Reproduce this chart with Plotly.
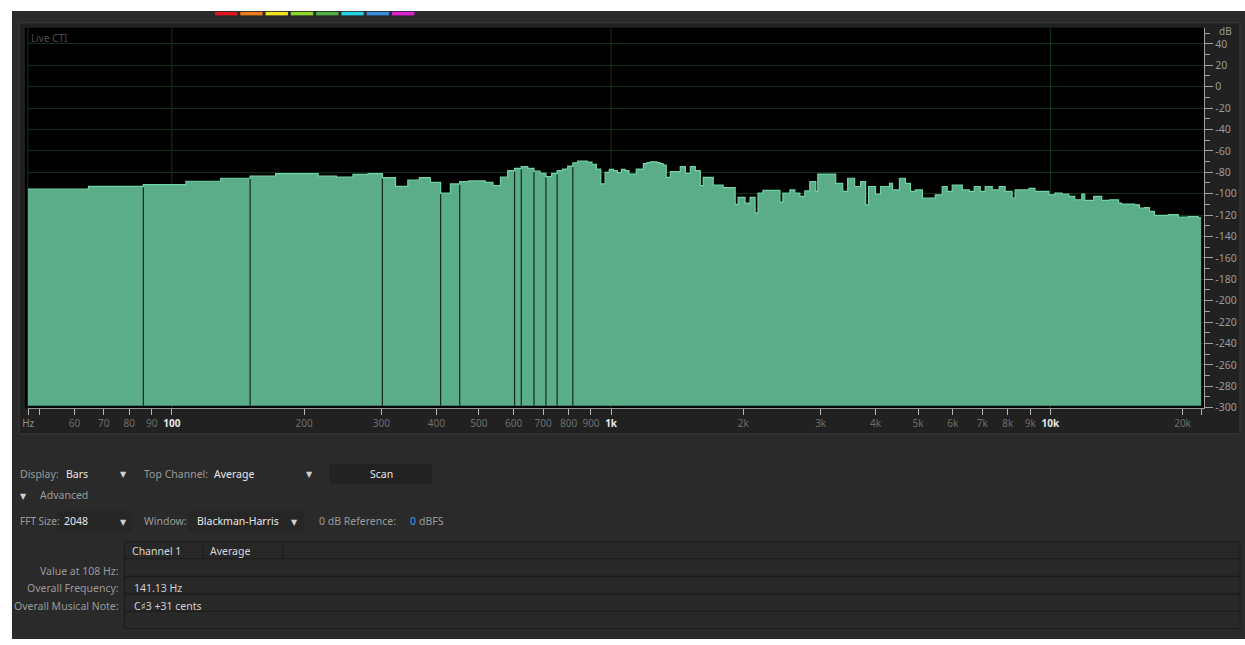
import math
import plotly.graph_objects as go

W, H = 1245, 645

# ---------------- data ----------------
SAMPLE_RATE = 44100
FFT_SIZE = 2048
BIN_HZ = SAMPLE_RATE / FFT_SIZE
NYQUIST_HZ = SAMPLE_RATE / 2
FIRST_BIN = 2

# level of individual FFT bins 2..61 (dB)
bin_db = [
    -95.8, -93.1, -91.5, -88.4, -85.6, -83.5, -81.3, -81.3, -83.5, -84.4,
    -81.9, -81.3, -85.0, -93.1, -87.2, -85.0, -89.4, -99.5, -90.9, -88.7,
    -88.1, -88.1, -89.4, -92.4, -84.4, -78.5, -76.4, -74.8, -76.4, -79.0,
    -81.0, -84.1, -81.0, -78.5, -77.0, -74.2, -71.1, -69.6, -69.6, -70.5,
    -72.7, -77.0, -90.9, -80.1, -77.3, -78.5, -80.4, -77.3, -78.5, -81.7,
    -81.7, -77.0, -77.0, -72.0, -71.0, -70.2, -70.2, -71.0, -72.0, -73.3,
]

# higher band, read as runs of bins: start frequency (Hz) and level (dB)
hf_start_hz = [
    1335, 1364, 1437, 1476, 1515, 1555, 1596, 1621, 1708, 1799,
    1916, 1946, 2018, 2072, 2127, 2160, 2217, 2423, 2461, 2553,
    2620, 2690, 2761, 2834, 2924, 2955, 3246, 3367, 3456, 3585,
    3699, 3797, 3857, 4000, 4106, 4304, 4372, 4534, 4679, 4802,
    4929, 5113, 5470, 5674, 5824, 5978, 6303, 6538, 6711, 6924,
    7108, 7372, 7646, 7890, 8183, 8313, 8938, 9223, 9922, 10238,
    10619, 11014, 11365, 11788, 11974, 12550, 13087, 13645, 14301, 14527,
    15546, 15958, 16379, 16812, 17257, 18565, 19560, 20608, 21711,
]
hf_db = [
    -84.7, -79.4, -74.8, -81.0, -74.8, -78.5, -92.4, -84.7, -91.9, -94.3,
    -110.0, -103.5, -108.8, -103.5, -118.0, -99.5, -97.0, -107.9, -99.5, -96.5,
    -99.5, -102.6, -97.4, -88.7, -97.9, -81.7, -90.3, -97.9, -85.6, -93.3,
    -88.7, -110.4, -93.3, -100.5, -93.3, -90.3, -96.5, -85.6, -90.3, -97.9,
    -96.5, -104.2, -101.1, -93.3, -97.9, -91.9, -96.5, -97.9, -93.3, -97.9,
    -93.3, -96.5, -93.3, -97.9, -104.2, -96.5, -95.0, -97.9, -101.1, -99.5,
    -100.5, -102.6, -105.7, -100.5, -106.3, -102.6, -106.3, -105.7, -108.8, -109.7,
    -110.4, -113.4, -113.0, -116.5, -120.2, -119.6, -122.0, -121.4, -122.6,
]

# bin boundaries that show a dark seam between bars
seam_bins = [4, 7, 14, 19, 21, 28, 29, 31, 33, 35, 38]

x_tick_hz = [47.1, 50, 60, 70, 80, 90, 100, 200, 300, 400, 500, 600, 700, 800, 900,
             1000, 2000, 3000, 4000, 5000, 6000, 7000, 8000, 9000, 10000, 20000, 22050]
x_tick_labels = ["Hz", "", "60", "70", "80", "90", "100", "200", "300", "400", "500",
                 "600", "700", "800", "900", "1k", "2k", "3k", "4k", "5k", "6k", "7k",
                 "8k", "9k", "10k", "20k", ""]
major_hz = [100, 1000, 10000]
db_ticks = [40, 20, 0, -20, -40, -60, -80, -100, -120, -140, -160, -180, -200,
            -220, -240, -260, -280, -300]

channel_colors = ["#e0141c", "#f07d1a", "#f0e41a", "#8ed62a", "#4caf48",
                  "#1fd4e4", "#3a8fe0", "#e01fd4"]

X_MIN_HZ, X_MAX_HZ = 47.02, 22400
DB_MIN, DB_MAX = -300.5, 55.1
BASE_DB = -298.3

# ---------------- helpers ----------------
def PX(p):
    return p / W

def PY(p):
    return 1 - p / H

FONT = "Noto Sans, Open Sans, DejaVu Sans, sans-serif"

# ---------------- spectrum ----------------
low_edges = [(FIRST_BIN + i) * BIN_HZ for i in range(len(bin_db))]
edges = low_edges + hf_start_hz + [NYQUIST_HZ]
levels = bin_db + hf_db
step_y = levels + [levels[-1]]

fig = go.Figure()

# vertical grid lines (decades)
gx, gy = [], []
for f in major_hz:
    gx += [f, f, None]
    gy += [DB_MIN, DB_MAX, None]
fig.add_trace(go.Scatter(x=gx, y=gy, mode="lines",
                         line=dict(color="rgb(16,58,26)", width=1),
                         hoverinfo="skip", showlegend=False))

fig.add_trace(go.Scatter(x=[edges[0], edges[-1]], y=[BASE_DB, BASE_DB], mode="lines",
                         line=dict(width=0), hoverinfo="skip", showlegend=False))
fig.add_trace(go.Scatter(x=edges, y=step_y, mode="lines", line_shape="hv",
                         fill="tonexty", fillcolor="rgb(90,173,136)",
                         line=dict(color="rgb(112,212,164)", width=1.2),
                         hoverinfo="skip", showlegend=False))

sx, sy = [], []
for b in seam_bins:
    i = b - FIRST_BIN
    top = min(levels[i - 1], levels[i])
    f = b * BIN_HZ
    sx += [f, f, None]
    sy += [BASE_DB, top - 0.8, None]
fig.add_trace(go.Scatter(x=sx, y=sy, mode="lines",
                         line=dict(color="rgb(22,40,31)", width=1.2),
                         hoverinfo="skip", showlegend=False))

# ---------------- shapes ----------------
shapes = []

def rect(x0, y0, x1, y1, fill, line=None, lw=0):
    shapes.append(dict(type="rect", xref="paper", yref="paper", layer="below",
                       x0=PX(x0), x1=PX(x1), y0=PY(y1), y1=PY(y0),
                       fillcolor=fill,
                       line=dict(color=line or fill, width=lw)))

rect(6, 11, W, H, "#2a2a2a")
rect(13, 23, 1240, 438, "#212121", "#3a3a3a", 1)
rect(19, 28, 1204, 412, "#000000")
shapes.append(dict(type="line", xref="paper", yref="paper", layer="below",
                   x0=PX(22), x1=PX(22), y0=PY(412), y1=PY(28),
                   line=dict(color="rgb(16,58,26)", width=1)))

for i, c in enumerate(channel_colors):
    x0 = 210 + i * 25.4
    rect(x0, 12, x0 + 22.5, 15.5, c)

# controls
rect(325, 468, 428, 488, "#222222")
rect(52, 516, 126, 537, "#262626")
rect(184, 516, 300, 537, "#262626")

# table
rect(119, 547, 1240, 564, "#272727", "#1d1d1d", 1)
for y0 in [564, 582, 600, 617]:
    rect(119, y0, 1240, y0 + 17.5, "#282828", "#1d1d1d", 1)
for xv in [198, 278]:
    shapes.append(dict(type="line", xref="paper", yref="paper", layer="below",
                       x0=PX(xv), x1=PX(xv), y0=PY(564), y1=PY(547),
                       line=dict(color="#1d1d1d", width=1)))

# ---------------- annotations ----------------
ann = []

def text(x, y, s, color="#9a9a9a", size=11, anchor="left", bold=False):
    if bold:
        s = "<b>" + s + "</b>"
    ann.append(dict(x=PX(x), y=PY(y), xref="paper", yref="paper", text=s,
                    showarrow=False, xanchor=anchor, yanchor="middle",
                    font=dict(family=FONT, size=size, color=color)))

text(23, 38, "Live CTI", "#4e4e4e", 10)
text(1217, 31, "dB", "#9a9a9a", 10)

text(12, 478, "Display:", "#9a9a9a", 10.5)
text(58, 478, "Bars", "#e6e6e6", 10.5)
text(113, 478, "▼", "#d0d0d0", 8)
text(137, 478, "Top Channel:", "#9a9a9a", 10.5)
text(207, 478, "Average", "#e6e6e6", 10.5)
text(299, 478, "▼", "#d0d0d0", 8)
text(377, 478, "Scan", "#e6e6e6", 10.5, "center")
text(12, 500, "▼", "#d0d0d0", 8)
text(32, 500, "Advanced", "#9a9a9a", 10.5)
text(12, 526, "FFT Size:", "#9a9a9a", 10)
text(56, 526, "2048", "#e6e6e6", 10.5)
text(113, 526, "▼", "#d0d0d0", 8)
text(137, 526, "Window:", "#9a9a9a", 10.5)
text(190, 526, "Blackman-Harris", "#e6e6e6", 10.5)
text(284, 526, "▼", "#d0d0d0", 8)
text(313, 526, "0 dB Reference:", "#9a9a9a", 10.5)
text(404, 526, "0", "#3a9de6", 10.5)
text(413, 526, "dBFS", "#9a9a9a", 10.5)

text(125, 556, "Channel 1", "#d6d6d6", 10.5)
text(203, 556, "Average", "#d6d6d6", 10.5)
text(116, 576, "Value at 108 Hz:", "#999999", 10.5, "right")
text(116, 594, "Overall Frequency:", "#999999", 10.5, "right")
text(116, 612, "Overall Musical Note:", "#999999", 10.5, "right")
text(127, 594, "141.13 Hz", "#cfcfcf", 10.5)
text(127, 612, "C♯3 +31 cents", "#cfcfcf", 10.5)

# x tick labels: decades bright/bold, others dim
x_ticktext = []
for v, lab in zip(x_tick_hz, x_tick_labels):
    if v in major_hz:
        x_ticktext.append('<span style="color:#e8e8e8"><b>%s</b></span>' % lab)
    elif lab == "Hz":
        x_ticktext.append('<span style="color:#8a8a8a">%s</span>' % lab)
    else:
        x_ticktext.append(lab)

fig.update_layout(
    width=W, height=H,
    margin=dict(l=0, r=0, t=0, b=0),
    paper_bgcolor="#ffffff",
    plot_bgcolor="rgba(0,0,0,0)",
    showlegend=False,
    shapes=shapes,
    annotations=ann,
    xaxis=dict(
        type="log",
        range=[math.log10(X_MIN_HZ), math.log10(X_MAX_HZ)],
        domain=[PX(22), PX(1204)],
        showgrid=False, zeroline=False,
        showline=True, linecolor="#9a9a9a", linewidth=1,
        ticks="outside", ticklen=6, tickcolor="#b5b5b5", tickwidth=1,
        tickvals=x_tick_hz, ticktext=x_ticktext,
        tickfont=dict(family=FONT, size=10, color="#6c6c6c"),
        fixedrange=True,
    ),
    yaxis=dict(
        range=[DB_MIN, DB_MAX],
        domain=[PY(412), PY(28)],
        side="right",
        showgrid=True, gridcolor="rgb(16,50,24)", gridwidth=1,
        zeroline=False,
        showline=True, linecolor="#a0a0a0", linewidth=1,
        ticks="outside", ticklen=8, tickcolor="#a0a0a0", tickwidth=1,
        tickvals=db_ticks, ticktext=[str(v) for v in db_ticks],
        tickfont=dict(family=FONT, size=10.5, color="#9a9a9a"),
        minor=dict(dtick=10, tick0=0, ticks="outside", ticklen=5,
                   tickcolor="#a0a0a0", showgrid=False),
        fixedrange=True,
    ),
)

fig.write_html(
    "out.html",
    config={"displayModeBar": False, "staticPlot": True},
    post_script="document.body.style.margin='0';document.body.style.overflow='hidden';",
)
